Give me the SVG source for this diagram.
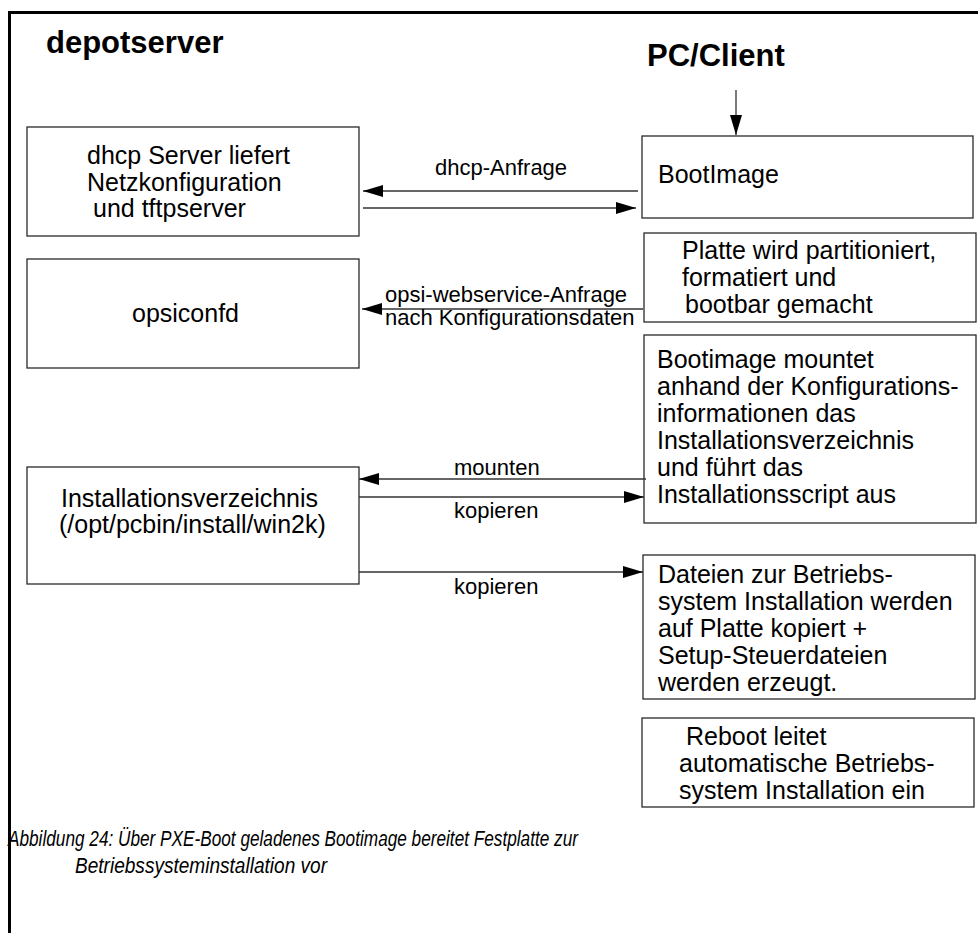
<svg xmlns="http://www.w3.org/2000/svg" width="978" height="933" viewBox="0 0 978 933">
<style>
.box{fill:#fff;stroke:#2a2a2a;stroke-width:1.3}
.t{font-family:"Liberation Sans",Arial,sans-serif;font-size:25px;fill:#000}
.l{font-family:"Liberation Sans",Arial,sans-serif;font-size:22px;fill:#000}
.h{font-family:"Liberation Sans",Arial,sans-serif;font-size:31px;font-weight:bold;fill:#000}
.c{font-family:"Liberation Sans",Arial,sans-serif;font-size:22px;font-style:italic;fill:#000}
.ar{stroke:#333;stroke-width:1.3;fill:none}
</style>
<defs>
<marker id="ah" markerUnits="userSpaceOnUse" markerWidth="20" markerHeight="12" refX="20" refY="6" orient="auto">
<path d="M0,0 L20,6 L0,12 z" fill="#000"/>
</marker>
</defs>
<path d="M9.5,933 V12.5 H978" fill="none" stroke="#000" stroke-width="3"/>
<text class="h" x="46" y="53">depotserver</text>
<text class="h" x="647" y="66">PC/Client</text>
<g id="dhcp">
<rect class="box" x="27" y="127" width="332" height="109"/>
<text class="t" x="87" y="164">dhcp Server liefert</text>
<text class="t" x="87" y="191">Netzkonfiguration</text>
<text class="t" x="93" y="217">und tftpserver</text>
</g>
<g id="opsiconfd">
<rect class="box" x="27" y="259" width="332" height="109"/>
<text class="t" x="132" y="322">opsiconfd</text>
</g>
<g id="installdir">
<rect class="box" x="27" y="467" width="332" height="117"/>
<text class="t" x="61" y="507">Installationsverzeichnis</text>
<text class="t" x="59" y="533">(/opt/pcbin/install/win2k)</text>
</g>
<g id="bootimage">
<rect class="box" x="642" y="136" width="331" height="82"/>
<text class="t" x="658" y="183">BootImage</text>
</g>
<g id="platte">
<rect class="box" x="644" y="233" width="332" height="89"/>
<text class="t" x="682" y="259">Platte wird partitioniert,</text>
<text class="t" x="682" y="286">formatiert und</text>
<text class="t" x="685" y="313">bootbar gemacht</text>
</g>
<g id="mount">
<rect class="box" x="644" y="335" width="332" height="188"/>
<text class="t" x="657" y="368">Bootimage mountet</text>
<text class="t" x="657" y="395">anhand der Konfigurations-</text>
<text class="t" x="657" y="422">informationen das</text>
<text class="t" x="657" y="449">Installationsverzeichnis</text>
<text class="t" x="657" y="476">und führt das</text>
<text class="t" x="657" y="503">Installationsscript aus</text>
</g>
<g id="dateien">
<rect class="box" x="643" y="555" width="332" height="144"/>
<text class="t" x="658" y="583">Dateien zur Betriebs-</text>
<text class="t" x="658" y="610">system Installation werden</text>
<text class="t" x="658" y="637">auf Platte kopiert +</text>
<text class="t" x="658" y="664">Setup-Steuerdateien</text>
<text class="t" x="658" y="691">werden erzeugt.</text>
</g>
<g id="reboot">
<rect class="box" x="642" y="718" width="332" height="89"/>
<text class="t" x="686" y="745">Reboot leitet</text>
<text class="t" x="679" y="772">automatische Betriebs-</text>
<text class="t" x="679" y="799">system Installation ein</text>
</g>
<g id="connectors">
<line class="ar" x1="736" y1="90" x2="736" y2="135" marker-end="url(#ah)"/>
<line class="ar" x1="638" y1="191" x2="363" y2="191" marker-end="url(#ah)"/>
<line class="ar" x1="363" y1="208" x2="636" y2="208" marker-end="url(#ah)"/>
<line class="ar" x1="643" y1="309" x2="362" y2="309" marker-end="url(#ah)"/>
<line class="ar" x1="646" y1="479" x2="359" y2="479" marker-end="url(#ah)"/>
<line class="ar" x1="359" y1="497" x2="644" y2="497" marker-end="url(#ah)"/>
<line class="ar" x1="359" y1="572" x2="643" y2="572" marker-end="url(#ah)"/>
<text class="l" x="435" y="175">dhcp-Anfrage</text>
<text class="l" x="385" y="302">opsi-webservice-Anfrage</text>
<text class="l" x="385" y="325">nach Konfigurationsdaten</text>
<text class="l" x="454" y="475">mounten</text>
<text class="l" x="454" y="518">kopieren</text>
<text class="l" x="454" y="594">kopieren</text>
</g>
<text class="c" x="8" y="846" textLength="570" lengthAdjust="spacingAndGlyphs">Abbildung 24: Über PXE-Boot geladenes Bootimage bereitet Festplatte zur</text>
<text class="c" x="75" y="873" textLength="252" lengthAdjust="spacingAndGlyphs">Betriebssysteminstallation vor</text>
</svg>
